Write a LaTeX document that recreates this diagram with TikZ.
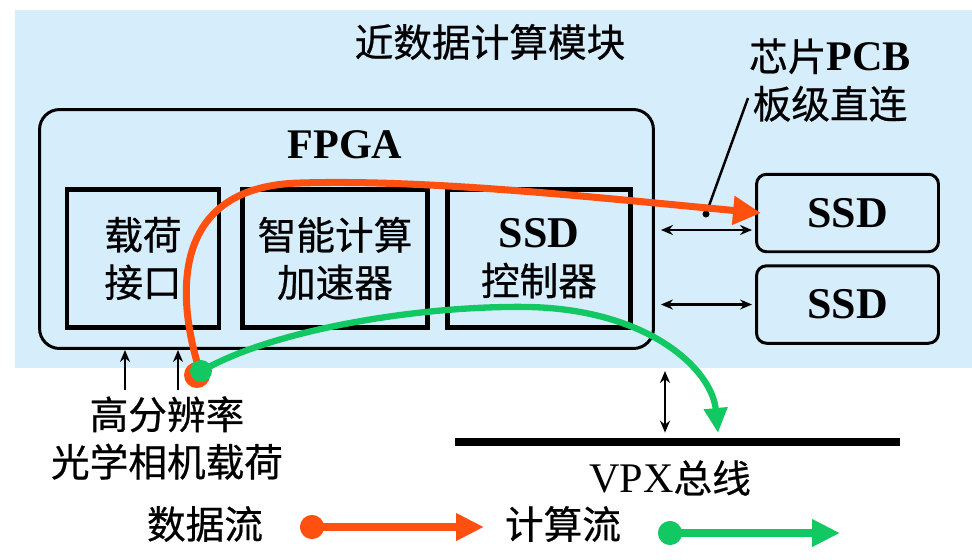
\documentclass[tikz,border=0pt]{standalone}
\usepackage{fontspec}
\setmainfont{Liberation Serif}
\newfontfamily\cjk[FakeBold=0.6]{Noto Sans CJK SC}
\usetikzlibrary{arrows.meta,positioning}
\definecolor{bgblue}{RGB}{214,238,252}
\definecolor{dataorange}{RGB}{255,80,16}
\definecolor{calcgreen}{RGB}{18,200,98}

\begin{document}
\begin{tikzpicture}[x=0.02cm, y=-0.02cm, every node/.style={font=\cjk\fontsize{22}{27}\selectfont}]
\tikzset{unit/.style={draw, line width=2.8pt, minimum height=2.76cm, inner sep=0pt, align=center}}
\tikzset{ssd/.style={draw, line width=1.7pt, rounded corners=0.2cm, minimum width=3.64cm, minimum height=1.55cm, font=\bfseries\fontsize{25}{30}\selectfont}}
\tikzset{link/.style={line width=1.4pt, {Stealth[length=0.24cm,width=0.2cm]}-{Stealth[length=0.24cm,width=0.2cm]}}}
\tikzset{flowO/.style={dataorange, line width=4pt, -{Triangle[length=0.56cm,width=0.55cm]}}}
\tikzset{flowG/.style={calcgreen, line width=3.6pt, -{Triangle[length=0.5cm,width=0.45cm]}}}
\useasboundingbox (0,0) rectangle (972,559);
\fill[bgblue] (15,10) rectangle (972,368);
\node (title) at (490,42) {近数据计算模块};
\node[align=center] (pcb) at (830,80) {芯片{\rmfamily\bfseries\fontsize{24}{27}\selectfont PCB}\\板级直连};
% FPGA and its units
\node[draw, line width=1.7pt, rounded corners=0.4cm, minimum width=12.28cm, minimum height=4.78cm] (fpga) at (346.5,229) {};
\node[font=\rmfamily\bfseries\fontsize{24}{28}\selectfont] (fpgat) at (345,145) {FPGA};
\node[unit, minimum width=3.04cm] (payif) at (143,258.5) {载荷\\接口};
\node[unit, minimum width=3.7cm] (accel) at (335,258.5) {智能计算\\加速器};
\node[unit, minimum width=3.66cm] (ctrl) at (539,258.5) {{\rmfamily\bfseries\fontsize{25}{27}\selectfont SSD}\\控制器};
\node[ssd] (ssdA) at (847.5,213) {SSD};
\node[ssd] (ssdB) at (847.5,304.5) {SSD};
\draw[link, shorten <=0.12cm, shorten >=0.06cm] ([yshift=-0.34cm]ssdA.west -| fpga.east) -- ([yshift=-0.34cm]ssdA.west);
\draw[link, shorten <=0.12cm, shorten >=0.06cm] (ssdB.west -| fpga.east) -- (ssdB.west);
% bus
\node[fill=black, minimum width=8.9cm, minimum height=0.16cm, inner sep=0pt] (bus) at (677.5,442) {};
\node (vpx) at (670,478) {{\rmfamily\fontsize{24}{27}\selectfont VPX}总线};
\coordinate (vtop) at (665,371);
\draw[link, shorten >=0.1cm] (vtop) -- (vtop |- bus.north);
% payload
\node[align=center] (cam) at (167,438) {高分辨率\\光学相机载荷};
\draw[line width=1.4pt, -{Stealth[length=0.24cm,width=0.2cm]}] (cam.north -| 125,0) -- (fpga.south -| 125,0);
\draw[line width=1.4pt, -{Stealth[length=0.24cm,width=0.2cm]}] (cam.north -| 178,0) -- (fpga.south -| 178,0);
% leader
\coordinate (tap) at (706,214);
\coordinate (lead) at (748,98);
\draw[line width=1.4pt] (tap) -- (lead);
\fill (tap) circle (3.5);
% flows
\coordinate (src) at (200,372);
\coordinate (gEnd) at (718,433);
\draw[flowO] (src) .. controls (174,290) and (174,186) .. (300,183) .. controls (430,179) and (600,198) .. ([xshift=0.12cm]ssdA.west);
\draw[flowG] (src) .. controls (270,330) and (420,305) .. (530,307) .. controls (650,310) and (712,370) .. (gEnd);
\fill[dataorange] (197,375) circle (13);
\fill[calcgreen] (201,371) circle (11);
% legend
\node (lgData) at (205,524) {数据流};
\node (lgCalc) at (563,524) {计算流};
\coordinate (dA) at (300,527);
\coordinate (dB) at (484,527);
\coordinate (cA) at (658,533);
\coordinate (cB) at (840,533);
\draw[flowO, line width=4.5pt, {Circle[length=0.48cm]}-{Triangle[length=0.56cm,width=0.52cm]}] (dA) -- (dB);
\draw[calcgreen, line width=4.5pt, {Circle[length=0.48cm]}-{Triangle[length=0.56cm,width=0.52cm]}] (cA) -- (cB);
\end{tikzpicture}
\end{document}
